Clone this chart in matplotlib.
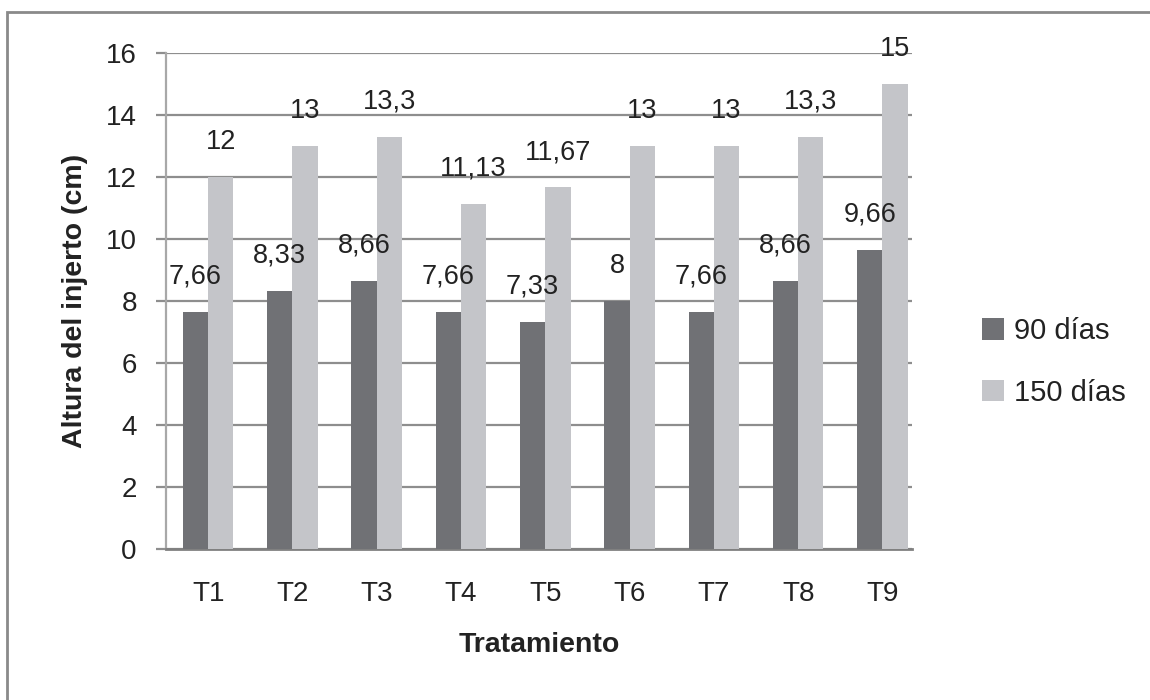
import matplotlib.pyplot as plt
import numpy as np
from matplotlib.patches import Rectangle

plt.rcParams['font.family'] = ['Liberation Sans', 'DejaVu Sans']

tratamientos = ["T1", "T2", "T3", "T4", "T5", "T6", "T7", "T8", "T9"]
dias_90 = [7.66, 8.33, 8.66, 7.66, 7.33, 8, 7.66, 8.66, 9.66]
dias_150 = [12, 13, 13.3, 11.13, 11.67, 13, 13, 13.3, 15]
series = ["90 días", "150 días"]
yticks = [0, 2, 4, 6, 8, 10, 12, 14, 16]

txt = "#222222"
grid = "#8e8e8e"
dark = "#707175"
light = "#c4c5c9"

fig = plt.figure(figsize=(11.5, 7), dpi=100)
ax = fig.add_axes([166 / 1150, 1 - 549 / 700, 746 / 1150, 496 / 700])

# marco gris alrededor de la figura
fig.patches.append(Rectangle((7 / 1150, -0.05), 1.1, 1 - 12 / 700 + 0.05,
                             transform=fig.transFigure, fill=False,
                             edgecolor="#8a8a8a", linewidth=2))

x = np.arange(len(tratamientos))
w = 0.3
b1 = ax.bar(x - w / 2, dias_90, w, color=dark, label=series[0], zorder=3)
b2 = ax.bar(x + w / 2, dias_150, w, color=light, label=series[1], zorder=3)


def etiqueta(v):
    return f"{v:g}".replace(".", ",")


for bars, vals in ((b1, dias_90), (b2, dias_150)):
    for rect, v in zip(bars, vals):
        ax.annotate(etiqueta(v), (rect.get_x() + rect.get_width() / 2, v),
                    xytext=(0, 16), textcoords="offset points",
                    ha="center", va="bottom", fontsize=19.5, color=txt,
                    annotation_clip=False, zorder=4)

ax.set_xlim(-0.5, 8.35)
ax.set_ylim(0, 16)
ax.set_yticks(yticks)
ax.set_xticks(x)
ax.set_xticklabels(tratamientos)
ax.yaxis.grid(True, color=grid, linewidth=1.6, zorder=0)
ax.set_axisbelow(True)

for s in ("top", "right"):
    ax.spines[s].set_visible(False)
ax.spines["left"].set_color("#a8a8a8")
ax.spines["left"].set_linewidth(1.6)
ax.spines["bottom"].set_color("#808080")
ax.spines["bottom"].set_linewidth(2)

ax.tick_params(axis="y", length=7, width=1.6, color=grid, pad=14,
               labelsize=20, labelcolor=txt)
ax.tick_params(axis="x", length=0, pad=23, labelsize=20, labelcolor=txt)

ax.set_xlabel("Tratamiento", fontsize=20.5, fontweight="bold", color=txt,
              labelpad=18)
ax.set_ylabel("Altura del injerto (cm)", fontsize=20.5, fontweight="bold",
              color=txt)
ax.yaxis.set_label_coords(-0.105, 0.5)

fig.legend(loc="center left", bbox_to_anchor=(956 / 1150, 1 - 362 / 700),
           frameon=False, fontsize=21, handlelength=0.75, handleheight=0.75,
           handletextpad=0.35, labelspacing=1.15, labelcolor=txt)

fig.savefig("out.png", dpi=100)
